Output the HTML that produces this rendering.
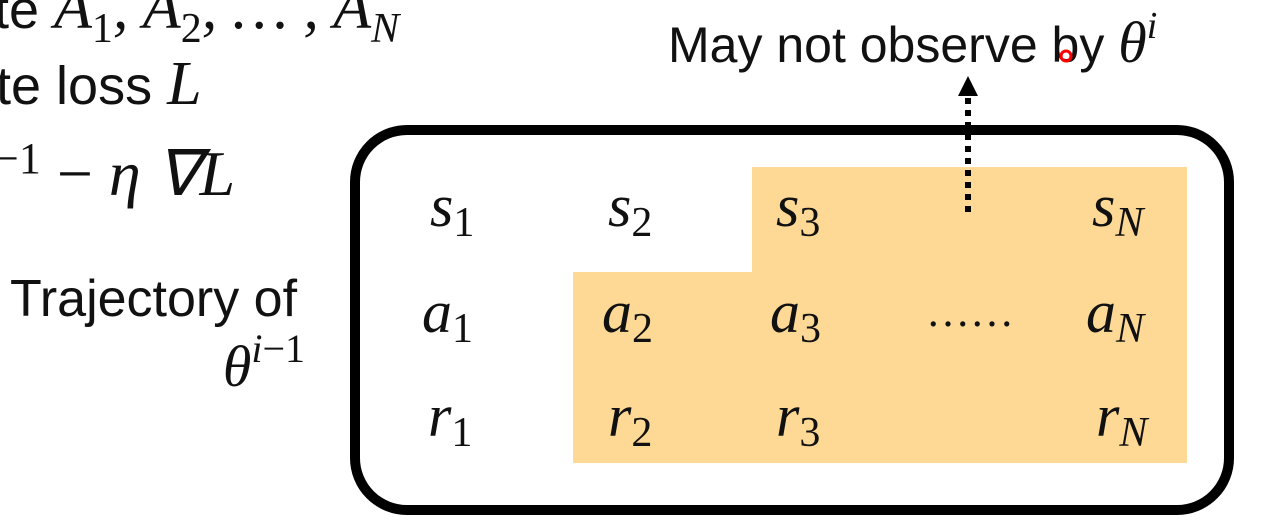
<!DOCTYPE html>
<html><head><meta charset="utf-8"><style>
html,body{margin:0;padding:0;background:#fff;}
svg{display:block;}
.m{font-family:"Liberation Serif",serif;font-style:italic;fill:#111;}
.s{font-family:"Liberation Sans",sans-serif;fill:#111;}
</style></head><body>
<svg width="1266" height="528" viewBox="0 0 1266 528">
<g>
<text class="m" x="-6" y="28" font-size="62"><tspan class="s" style="font-style:normal" font-size="54">te </tspan>A<tspan font-size="42" dy="14" font-style="normal">1</tspan><tspan dy="-14">, A</tspan><tspan font-size="42" dy="14" font-style="normal">2</tspan><tspan dy="-14">, … , A</tspan><tspan font-size="42" dy="14">N</tspan></text>
<text x="-4" y="104" font-size="54"><tspan class="s">te loss </tspan><tspan class="m" font-size="62">L</tspan></text>
<text x="-6" y="195" font-size="64" class="m"><tspan font-size="44" dy="-22" font-style="normal">−1</tspan><tspan dy="22" font-style="normal"> − </tspan>η ∇L</text>
</g>
<text class="s" x="10" y="316" font-size="52">Trajectory of</text>
<text class="m" x="305" y="386" font-size="58" text-anchor="end">θ<tspan font-size="40" dy="-24">i</tspan><tspan font-size="40" font-style="normal">−1</tspan></text>
<path d="M752 167 H1187 V463 H573 V272 H752 Z" fill="#fdd995"/>
<rect x="355" y="130" width="874" height="380" rx="52" fill="none" stroke="#000" stroke-width="10"/>
<line x1="968" y1="212" x2="968" y2="98" stroke="#000" stroke-width="6" stroke-dasharray="6,6"/>
<polygon points="968,76 958,96 978,96" fill="#000"/>
<text class="s" x="668" y="62" font-size="50">May not observe  by <tspan class="m" font-size="58">θ</tspan><tspan class="m" font-size="38" dy="-24">i</tspan></text>
<circle cx="1066" cy="56" r="5" fill="none" stroke="#f00" stroke-width="3"/>
<g class="m" font-size="60">
<text x="430" y="226">s<tspan font-size="42" dy="10" font-style="normal">1</tspan></text>
<text x="608" y="226">s<tspan font-size="42" dy="10" font-style="normal">2</tspan></text>
<text x="776" y="226">s<tspan font-size="42" dy="10" font-style="normal">3</tspan></text>
<text x="1092" y="226">s<tspan font-size="42" dy="10">N</tspan></text>
<text x="422" y="332">a<tspan font-size="42" dy="10" font-style="normal">1</tspan></text>
<text x="602" y="332">a<tspan font-size="42" dy="10" font-style="normal">2</tspan></text>
<text x="770" y="332">a<tspan font-size="42" dy="10" font-style="normal">3</tspan></text>
<text x="926" y="326" font-style="normal" font-size="44">……</text>
<text x="1086" y="332">a<tspan font-size="42" dy="10">N</tspan></text>
<text x="428" y="436">r<tspan font-size="42" dy="10" font-style="normal">1</tspan></text>
<text x="608" y="436">r<tspan font-size="42" dy="10" font-style="normal">2</tspan></text>
<text x="776" y="436">r<tspan font-size="42" dy="10" font-style="normal">3</tspan></text>
<text x="1096" y="436">r<tspan font-size="42" dy="10">N</tspan></text>
</g>
</svg>
</body></html>
